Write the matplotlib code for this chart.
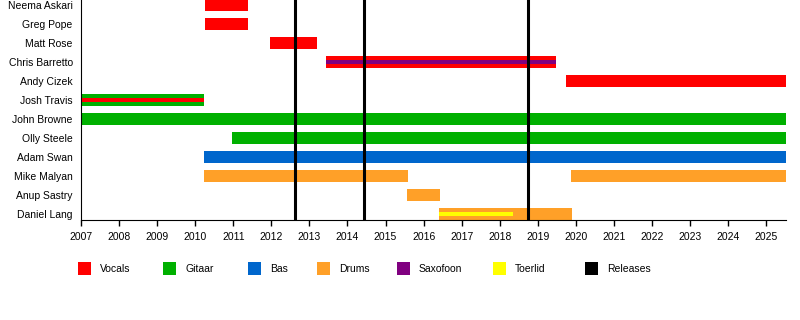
import matplotlib.pyplot as plt
from matplotlib.patches import Rectangle

plt.rcParams['font.family'] = ['Liberation Sans', 'DejaVu Sans']

leden = ['Neema Askari', 'Greg Pope', 'Matt Rose', 'Chris Barretto', 'Andy Cizek',
         'Josh Travis', 'John Browne', 'Olly Steele', 'Adam Swan', 'Mike Malyan',
         'Anup Sastry', 'Daniel Lang']

kleuren = {
    'Vocals': '#ff0000',
    'Gitaar': '#00b000',
    'Bas': '#0066cc',
    'Drums': '#ffa028',
    'Saxofoon': '#800080',
    'Toerlid': '#ffff00',
    'Releases': '#000000',
}

# (lid, rol, begin, eind)
periodes = [
    ('Neema Askari', 'Vocals', 2010.25, 2011.4),
    ('Greg Pope', 'Vocals', 2010.25, 2011.4),
    ('Matt Rose', 'Vocals', 2011.97, 2013.2),
    ('Chris Barretto', 'Vocals', 2013.44, 2019.48),
    ('Andy Cizek', 'Vocals', 2019.74, 2025.52),
    ('Josh Travis', 'Gitaar', 2007.0, 2010.23),
    ('John Browne', 'Gitaar', 2007.0, 2025.52),
    ('Olly Steele', 'Gitaar', 2010.97, 2025.52),
    ('Adam Swan', 'Bas', 2010.23, 2025.52),
    ('Mike Malyan', 'Drums', 2010.23, 2015.59),
    ('Mike Malyan', 'Drums', 2019.87, 2025.52),
    ('Anup Sastry', 'Drums', 2015.57, 2016.43),
    ('Daniel Lang', 'Drums', 2016.4, 2019.9),
]

# dunne streep binnen de balk
extra = [
    ('Chris Barretto', 'Saxofoon', 2013.44, 2019.48),
    ('Josh Travis', 'Vocals', 2007.0, 2010.23),
    ('Daniel Lang', 'Toerlid', 2016.4, 2018.35),
]

releases = [2012.62, 2014.44, 2018.74]

jaren = list(range(2007, 2026))

# linkerrand van elk legendavakje, in pixels
legenda_x = [78, 163, 248, 317, 397, 493, 585]

W, H = 800, 320
fig = plt.figure(figsize=(8, 3.2), dpi=100)
ax = fig.add_axes([81 / W, 1 - 220 / H, 705 / W, 220 / H])

for lid, rol, begin, eind in periodes:
    i = leden.index(lid)
    ax.barh(i, eind - begin, left=begin, height=0.62, color=kleuren[rol], linewidth=0)

for lid, rol, begin, eind in extra:
    i = leden.index(lid)
    ax.barh(i, eind - begin, left=begin, height=0.18, color=kleuren[rol], linewidth=0)

for r in releases:
    ax.axvline(r, color='black', linewidth=2.2, zorder=3)

ax.set_xlim(2007, 2025.52)
ax.set_ylim(215 / 19, -5 / 19)
ax.set_yticks(range(len(leden)))
ax.set_yticklabels(leden, fontsize=7.5)
ax.tick_params(axis='y', length=0, pad=6)
ax.set_xticks(jaren)
ax.set_xticklabels([str(j) for j in jaren], fontsize=7.5)
ax.tick_params(axis='x', length=4, width=1, pad=5)
ax.spines['top'].set_visible(False)
ax.spines['right'].set_visible(False)

# legenda
for x, (naam, kleur) in zip(legenda_x, kleuren.items()):
    fig.add_artist(Rectangle((x / W, 1 - 275 / H), 13 / W, 13 / H,
                             transform=fig.transFigure, facecolor=kleur, edgecolor='none'))
    fig.text((x + 22) / W, 1 - 268.5 / H, naam, fontsize=7.5, va='center', ha='left')

fig.savefig('out.png', dpi=100)
